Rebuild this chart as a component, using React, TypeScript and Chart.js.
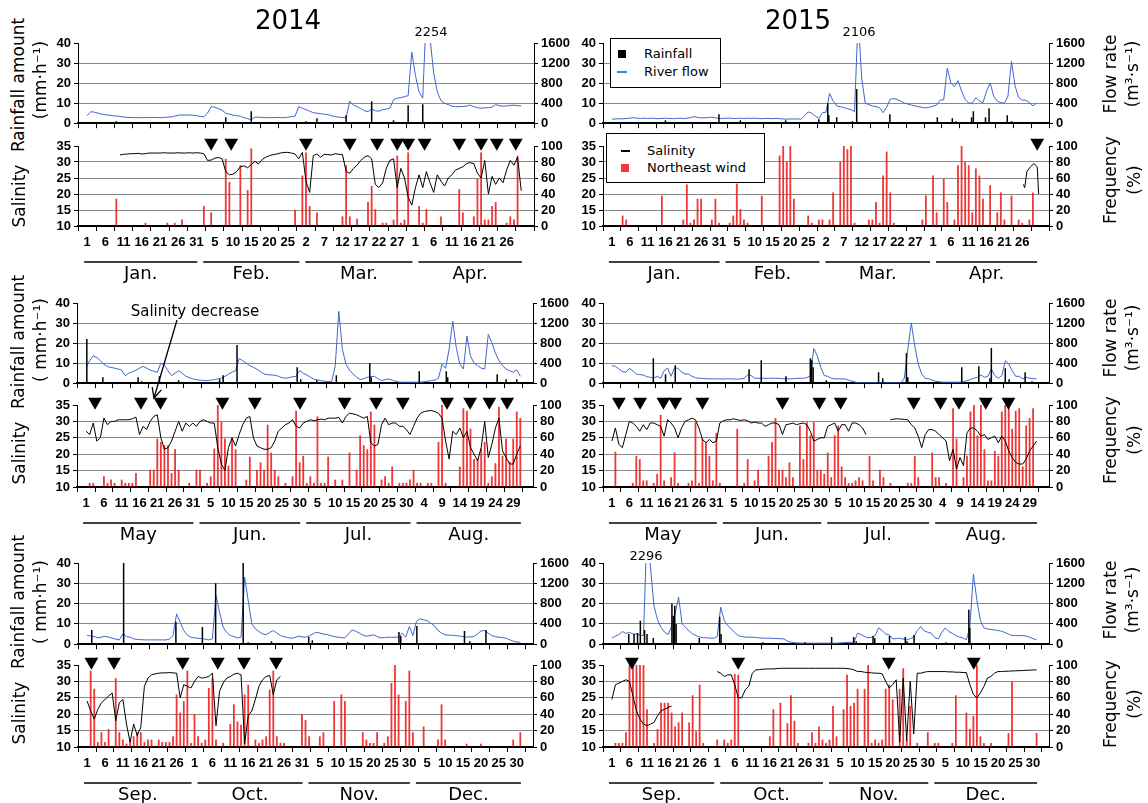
import React, { useEffect, useRef } from "react";
import { Chart, registerables } from "chart.js";

Chart.register(...registerables);

type Pair = [number, number];

// ---------------- categories / tick labels ----------------
const monthsJanApr = ["Jan.", "Feb.", "Mar.", "Apr."];
const monthsMayAug = ["May", "Jun.", "Jul.", "Aug."];
const monthsSepDec = ["Sep.", "Oct.", "Nov.", "Dec."];
const daysJanApr = [31, 28, 31, 30];
const daysMayAug = [31, 30, 31, 31];
const daysSepDec = [30, 31, 30, 31];
const rainTicks = [0, 10, 20, 30, 40];
const flowTicks = [0, 400, 800, 1200, 1600];
const salTicks = [10, 15, 20, 25, 30, 35];
const freqTicks = [0, 20, 40, 60, 80, 100];

// ---------------- 2014 Jan-Apr ----------------
const flow2014JanApr = [
  150, 230, 220, 200, 180, 170, 160, 150, 145, 135,
  125, 115, 115, 110, 110, 112, 112, 110, 115, 112,
  110, 115, 120, 125, 140, 160, 165, 160, 165, 160,
  150, 135, 130, 200, 330, 320, 290, 260, 200, 180,
  160, 150, 140, 110, 90, 70, 120, 120, 115, 110,
  112, 110, 115, 112, 110, 120, 130, 140, 330, 300,
  270, 240, 210, 200, 190, 180, 170, 150, 130, 120,
  115, 112, 440, 360, 330, 290, 250, 230, 280, 250,
  240, 270, 280, 300, 470, 500, 510, 530, 550, 1420,
  950, 620, 500, 2254, 1700, 1000, 620, 450, 400, 370,
  340, 330, 330, 335, 340, 360, 330, 310, 300, 305,
  310, 320, 370, 350, 340, 345, 355, 360, 350, 345,
];
const rain2014JanApr: Pair[] = [
  [8, 1], [38, 3], [45, 6], [60, 1], [63, 2.5], [71, 4], [75, 0.5], [78, 11], [84, 1.5], [88, 9], [92, 9.5],
];
const sal2014JanApr: (number | null)[] = [
  null, null, null, null, null, null, null, null, null, 32.2,
  32.4, 32.5, 32.6, 32.6, 32.7, 32.5, 32.6, 32.8, 32.8, 32.8,
  32.8, 32.9, 32.8, 32.8, 32.8, 32.9, 32.8, 32.8, 32.9, 32.8,
  32.9, 32.8, 32.6, 30.5, 30.6, 31.2, 31.4, 31.0, 27, 26,
  26.2, 27, 28.5, 28.8, 28.2, 29.2, 30.2, 29.4, 30.8, 31.5,
  32, 32.3, 32.5, 32.8, 33, 33, 32.8, 32.5, 31, 33,
  24, 20.5, 32, 32.5, 31.5, 32.4, 32.3, 32.2, 32.6, 32.4,
  32.3, 27, 26.5, 28, 29, 30.5, 31.5, 32, 31, 23,
  22, 23.5, 28, 30.5, 31, 22, 28, 25, 19, 16.5,
  22, 26, 22, 27, 23.5, 20.5, 26, 24, 22.5, 25,
  26, 27.5, 28, 28.5, 29.5, 29.8, 29.5, 26.5, 25, 30.5,
  20, 25.5, 23, 25, 23.5, 27.5, 30.5, 29, 31.5, 21,
];
const wind2014JanApr: Pair[] = [
  [8, 34], [16, 4], [22, 4], [24, 4], [26, 8], [32, 25], [34, 17], [38, 84], [39, 55], [42, 76], [44, 45], [45, 97],
  [57, 20], [59, 63], [60, 92], [61, 25], [63, 17], [70, 12], [71, 76], [72, 12], [74, 9], [77, 30], [78, 50], [79, 21],
  [81, 4], [82, 4], [84, 8], [85, 88], [86, 4], [87, 8], [88, 92], [91, 25], [92, 4], [93, 21], [97, 12], [102, 46],
  [103, 17], [106, 12], [107, 59], [108, 92], [109, 8], [110, 8], [111, 25], [112, 30], [115, 4], [116, 12], [117, 8], [118, 88],
];
const tri2014JanApr = [34, 39.5, 60, 72, 79.5, 85, 88, 92.5, 102, 108, 112.3, 117.5];

// ---------------- 2015 Jan-Apr ----------------
const flow2015JanApr = [
  80, 85, 90, 85, 95, 100, 110, 100, 95, 100,
  95, 100, 95, 90, 95, 100, 95, 90, 95, 100,
  95, 100, 110, 130, 115, 105, 110, 110, 120, 105,
  100, 95, 100, 100, 95, 95, 100, 95, 100, 95,
  100, 95, 90, 95, 95, 90, 95, 90, 85, 80,
  85, 85, 85, 80, 150, 225, 200, 140, 100, 210,
  220, 595, 440, 345, 330, 310, 290, 270, 230, 2106,
  900, 400, 370, 345, 330, 310, 210, 320, 480, 490,
  470, 440, 400, 380, 360, 345, 330, 315, 305, 320,
  340, 360, 460, 470, 1100, 800, 730, 850, 640, 475,
  400, 400, 510, 440, 410, 640, 805, 540, 440, 410,
  400, 540, 1235, 740, 510, 460, 460, 410, 345, 400,
];
const rain2015JanApr: Pair[] = [
  [15, 1.5], [30, 4.5], [36, 1.5], [48.7, 1.5], [55.6, 0.5], [58, 2], [60.5, 10], [60.8, 4], [63, 3], [67.4, 1],
  [68.6, 17], [77.9, 4.5], [91.2, 3], [95.4, 2.5], [96.4, 1], [100.8, 3], [101.3, 6], [104.7, 3], [105.7, 7.5],
  [110.8, 4], [112, 1],
];
const sal2015JanApr: Pair[] = [
  [115.3, 23], [115.7, 22], [116.3, 27], [117.3, 28.5], [118.3, 29.5], [119.2, 28.5], [119.6, 20],
];
const wind2015JanApr: Pair[] = [
  [3, 13], [4, 8], [14, 38], [20, 8], [21, 52], [22, 4], [23, 8], [24, 34], [25, 34], [28, 8], [29, 34], [30, 4],
  [33, 4], [34, 13], [35, 53], [36, 21], [37, 8], [38, 4], [42, 38], [47, 88], [48, 100], [49, 80], [50, 100], [51, 34],
  [55, 13], [56, 4], [58, 8], [59, 8], [61, 8], [62, 42], [64, 80], [65, 100], [66, 96], [67, 100], [68, 4], [72, 8],
  [73, 8], [74, 30], [75, 4], [76, 63], [77, 93], [78, 42], [79, 4], [87, 8], [88, 38], [90, 63], [91, 17], [93, 59],
  [94, 30], [96, 8], [97, 76], [98, 100], [99, 80], [100, 76], [101, 17], [102, 72], [103, 63], [104, 34], [106, 51],
  [108, 17], [109, 42], [110, 8], [112, 38], [114, 8], [115, 4], [117, 8], [118, 42],
];
const tri2015JanApr = [119.2];

// ---------------- 2014 May-Aug ----------------
const flow2014MayAug = [
  320, 450, 546, 513, 450, 380, 330, 316, 300, 283,
  260, 150, 200, 230, 260, 300, 336, 300, 260, 240,
  217, 401, 360, 250, 150, 200, 250, 200, 140, 110,
  86, 70, 60, 55, 53, 60, 70, 86, 100, 138,
  180, 220, 250, 493, 447, 400, 350, 316, 280, 230,
  184, 170, 164, 160, 140, 110, 99, 110, 130, 138,
  250, 200, 164, 120, 80, 66, 50, 40, 35, 33,
  349, 1434, 678, 380, 260, 184, 120, 72, 90, 118,
  130, 138, 90, 53, 70, 86, 60, 40, 20, 20,
  20, 20, 20, 20, 20, 30, 40, 53, 60, 100,
  380, 296, 678, 1237, 711, 380, 283, 941, 546, 400,
  349, 300, 283, 974, 809, 600, 447, 350, 283, 250,
  217, 263, 138,
];
const rain2014MayAug: Pair[] = [
  [0.2, 22], [4.7, 3], [14.6, 3], [15.6, 1], [20.6, 3.5], [26, 1.5], [37.5, 2], [38.5, 4], [42.4, 19], [59.3, 8],
  [60.3, 2], [64.8, 1.5], [70.3, 4], [79.7, 10], [80.1, 3], [93.6, 6], [101.2, 6], [101.6, 3], [115.5, 4.5],
  [118, 2], [121, 2],
];
const sal2014MayAug: (number | null)[] = [
  27, 26, 29.5, 24, 25, 31, 29, 30, 30, 30.5,
  30.5, 30.5, 30.5, 30.8, 31.3, 26, 28.5, 27.5, 30, 31.5,
  32, 25, 21.5, 22, 24, 27, 30, 27, 29.5, 28.5,
  29.5, 28.5, 30, 30.5, 30, 29.5, 29.5, 22, 17, 15,
  22, 25, 22.5, 26, 29, 31, 31.5, 25, 22.5, 22,
  21.5, 21.5, 22, 24, 27, 28, 29, 29.5, 30.5, 28.5,
  28, 29.5, 30, 30.5, 30.2, 30.5, 30.7, 30.5, 31, 31,
  31, 31.2, 29.5, 31.5, 32.5, 32.3, 32, 31.5, 31, 31.5,
  23.5, 22.5, 23, 29, 31, 29, 29.5, 29.5, 28.5, 28.5,
  27.5, 26, 28.5, 31, 32.5, 33, 33.2, 33.3, 33, 32.5,
  31, 24, 18.5, 27, 26, 28, 25, 27, 22, 20,
  18, 22, 30, 19, 23, 28, 31, 21, 19, 17,
  17, 20, 22.5,
];
const wind2014MayAug: Pair[] = [
  [1, 5], [2, 5], [5, 13], [6, 5], [7, 9], [8, 5], [10, 9], [11, 5], [12, 5], [13, 5], [14, 17], [18, 21], [19, 21],
  [20, 59], [21, 55], [22, 51], [23, 51], [24, 17], [25, 46], [26, 21], [29, 5], [31, 21], [32, 21], [34, 5], [35, 13],
  [36, 47], [37, 100], [38, 80], [39, 59], [40, 26], [41, 59], [42, 46], [45, 9], [46, 37], [48, 21], [49, 30], [50, 21],
  [51, 76], [52, 42], [53, 21], [54, 13], [56, 5], [58, 13], [59, 93], [60, 30], [61, 38], [62, 5], [63, 13], [64, 5],
  [65, 86], [66, 5], [67, 5], [68, 37], [70, 9], [72, 9], [74, 42], [76, 21], [77, 63], [78, 51], [79, 46], [80, 92],
  [81, 76], [83, 9], [84, 13], [85, 5], [86, 25], [88, 5], [89, 5], [90, 5], [91, 9], [92, 21], [93, 5], [94, 5],
  [96, 5], [97, 5], [99, 55], [100, 100], [101, 5], [105, 25], [106, 96], [107, 93], [108, 71], [109, 34], [110, 34],
  [111, 47], [112, 55], [113, 5], [114, 13], [115, 29], [116, 98], [117, 38], [118, 59], [119, 31], [120, 59],
  [121, 92], [122, 84],
];
const tri2014MayAug = [2.5, 15.4, 20.9, 38.3, 47.4, 60.1, 72.6, 81.5, 89, 101.4, 107.9, 113.3, 118.3];

// ---------------- 2015 May-Aug ----------------
const flow2015MayAug = [
  349, 336, 283, 230, 217, 296, 250, 184, 170, 164,
  130, 118, 99, 138, 99, 250, 303, 138, 309, 296,
  220, 184, 184, 138, 110, 99, 95, 90, 86, 86,
  86, 86, 80, 90, 86, 86, 80, 86, 90, 171,
  150, 99, 99, 99, 95, 99, 99, 99, 95, 90,
  86, 86, 90, 95, 99, 99, 110, 151, 691, 546,
  316, 151, 138, 100, 86, 86, 86, 86, 60, 40,
  20, 5, 5, 5, 5, 5, 5, 5, 5, 5,
  5, 5, 5, 5, 100, 678, 1204, 744, 382, 184,
  99, 86, 60, 40, 30, 20, 20, 20, 20, 20,
  20, 30, 50, 72, 100, 118, 164, 118, 138, 283,
  151, 99, 151, 447, 382, 250, 138, 138, 86, 118,
  100, 90, 86,
];
const rain2015MayAug: Pair[] = [
  [11.9, 12.5], [15.4, 4.5], [18.2, 9], [39.4, 7], [42.9, 11.5], [50, 3.5], [57, 12.5], [57.4, 11.5], [57.8, 8],
  [61.6, 1.5], [76.6, 5.5], [77.8, 2.5], [84.6, 15], [85, 3], [100.5, 8], [105.4, 8.5], [108.6, 2.5], [109, 17.5],
  [113, 7.5], [114.1, 2], [118.7, 5.5], [120.7, 1],
];
const sal2015MayAug: (number | null)[] = [
  24, 28, 23, 22, 26, 30, 29.5, 28.5, 27, 29,
  27.5, 29.5, 29.5, 29, 28.5, 25.5, 30.5, 29.5, 28, 25,
  28, 30, 30.5, 31, 30.5, 28, 24.5, 23.5, 24.5, 23.5,
  24, 29.5, 30.2, 30.5, 30.5, 30.8, 30.5, 30.3, 30.5, 30.2,
  29.5, 29.8, 29.5, 29.5, 28.5, 29, 29.5, 29.5, 29, 26,
  29, 29.2, 29.5, 29, 29.3, 29.5, 29, 27, 24, 24.5,
  25, 25, 28.5, 29, 29.5, 27, 29, 29, 27, 29.5,
  29.5, 29, 28, 26, null, null, null, null, null, null,
  30.5, 30.7, 30.8, 30.7, 30.6, 30.5, 29, 28, 25.5, 22,
  26, 27.5, 27.5, 27, 26, 25, 24, 18, 21.5, 15.5,
  19, 16.5, 26.5, 28, 28, 27, 25.5, 26, 24.5, 25,
  25.5, 23.5, 25.5, 24, 21, 19, 17.5, 17, 17, 18.5,
  21, 22.5, 24,
];
const wind2015MayAug: Pair[] = [
  [1, 43], [6, 5], [7, 38], [8, 34], [9, 8], [10, 8], [12, 5], [13, 16], [14, 88], [15, 8], [17, 12], [18, 42], [19, 5],
  [22, 5], [23, 8], [24, 79], [25, 5], [26, 59], [27, 55], [28, 38], [29, 8], [30, 66], [31, 5], [36, 71], [38, 5],
  [39, 34], [41, 8], [42, 21], [45, 38], [46, 55], [47, 84], [48, 21], [49, 21], [50, 12], [51, 30], [52, 12], [54, 75],
  [55, 34], [56, 79], [57, 63], [58, 79], [59, 21], [60, 21], [61, 16], [62, 42], [63, 12], [64, 63], [65, 75], [66, 25],
  [67, 12], [68, 5], [69, 5], [70, 8], [71, 12], [72, 8], [74, 38], [75, 8], [77, 21], [78, 12], [80, 5], [85, 5],
  [86, 5], [87, 38], [88, 12], [92, 42], [93, 12], [94, 12], [96, 5], [98, 96], [99, 59], [101, 12], [102, 38],
  [103, 92], [104, 100], [105, 63], [106, 100], [107, 46], [108, 8], [109, 8], [110, 44], [111, 38], [112, 92],
  [113, 100], [114, 100], [115, 71], [116, 93], [117, 96], [118, 25], [119, 75], [120, 84], [121, 96],
];
const tri2015MayAug = [2, 8.1, 14.8, 18.2, 26, 49, 59.6, 65.7, 86.7, 94.4, 99.7, 107.4, 113.9];

// ---------------- 2014 Sep-Dec ----------------
const flow2014SepDec = [
  170, 165, 150, 125, 140, 157, 140, 118, 100, 85,
  203, 150, 138, 105, 95, 90, 85, 85, 85, 85,
  85, 85, 85, 100, 170, 597, 433, 269, 180, 138,
  125, 118, 110, 100, 85, 105, 958, 630, 335, 230,
  170, 150, 125, 138, 1319, 859, 400, 302, 250, 203,
  190, 230, 269, 220, 170, 150, 130, 118, 130, 157,
  145, 138, 160, 200, 236, 220, 200, 190, 170, 150,
  138, 130, 125, 200, 282, 256, 220, 180, 157, 170,
  184, 150, 125, 130, 138, 135, 138, 138, 216, 138,
  348, 170, 450, 499, 480, 466, 413, 367, 269, 220,
  184, 180, 175, 170, 160, 150, 138, 145, 151, 200,
  260, 269, 220, 170, 150, 138, 130, 118, 90, 59,
  45, 39,
];
const rain2014SepDec: Pair[] = [
  [1.3, 7], [10.2, 40], [24.8, 11], [32.2, 8.5], [35.9, 30], [43.6, 40], [45, 1], [51.5, 1.5], [61.9, 3.5],
  [62.9, 2], [72.8, 1], [87.1, 6], [87.6, 4], [92.1, 9], [105.4, 6.5], [106.9, 1.5], [111.4, 7],
];
const sal2014SepDec: (number | null)[] = [
  24, 21, 18.5, 21.5, 23.5, 24.5, 25.5, 26.5, 18, 23.5,
  24.5, 17, 11.5, 17, 13.5, 16, 28.5, 31, 32, 32.3,
  32.5, 32.6, 32.6, 32.7, 32.6, 32.5, 25, 29, 28.5, 28,
  30, 31.5, 31, 31.2, 31.5, 32.5, 16.5, 27, 29.5, 31,
  31.5, 32.2, 32.5, 32, 11, 19.5, 21, 24.5, 28.5, 30.5,
  31.5, 31.8, 26, 30.5, 31.5,
];
const wind2014SepDec: Pair[] = [
  [1, 93], [2, 71], [3, 6], [4, 18], [5, 6], [6, 22], [8, 84], [9, 18], [10, 9], [11, 4], [12, 9], [13, 13], [14, 18],
  [15, 18], [16, 6], [17, 9], [18, 9], [20, 9], [21, 6], [22, 6], [23, 6], [24, 13], [25, 64], [26, 42], [27, 56],
  [28, 93], [29, 5], [30, 40], [31, 13], [32, 5], [33, 9], [34, 72], [35, 84], [36, 9], [38, 5], [40, 28], [41, 52],
  [42, 31], [43, 27], [44, 64], [45, 76], [47, 9], [48, 5], [49, 9], [50, 13], [51, 70], [52, 93], [53, 13], [54, 5],
  [55, 5], [60, 40], [61, 33], [62, 13], [65, 13], [66, 18], [69, 56], [71, 64], [72, 56], [77, 18], [78, 9], [79, 5],
  [80, 5], [81, 18], [83, 5], [84, 13], [85, 78], [86, 100], [87, 64], [89, 56], [90, 93], [91, 18], [94, 25], [98, 9],
  [99, 52], [100, 9], [106, 4], [110, 4], [119, 9], [121, 18],
];
const tri2014SepDec = [1.2, 7.5, 26.7, 36.5, 43.8, 52.8];

// ---------------- 2015 Sep-Dec ----------------
const flow2015SepDec = [
  120, 160, 190, 250, 210, 236, 200, 203, 180, 170,
  2296, 1500, 750, 480, 330, 240, 190, 350, 600, 925,
  400, 330, 260, 203, 170, 140, 130, 125, 120, 118,
  150, 728, 466, 367, 302, 230, 170, 150, 140, 138,
  138, 130, 125, 120, 118, 118, 115, 110, 108, 105,
  60, 39, 30, 25, 20, 20, 20, 20, 20, 20,
  20, 20, 20, 20, 20, 25, 30, 35, 39, 40,
  216, 190, 150, 125, 140, 170, 321, 269, 203, 184,
  105, 110, 118, 100, 85, 110, 138, 269, 348, 260,
  236, 216, 130, 105, 236, 321, 250, 216, 170, 140,
  125, 85, 335, 1384, 859, 466, 321, 300, 290, 282,
  270, 256, 230, 200, 170, 170, 170, 170, 160, 138,
  110, 85,
];
const rain2015SepDec: Pair[] = [
  [4.8, 5], [6.3, 5], [7.3, 5.5], [8.1, 11.5], [9.3, 7], [10, 5], [11.8, 3], [17.1, 20], [17.5, 14], [17.9, 19],
  [18.3, 10], [24.9, 3], [30.7, 13.5], [31.1, 5], [43, 1], [55, 1], [62.6, 3.5], [68.9, 3.5], [69.6, 1.5], [74.4, 4],
  [74.9, 3], [79.1, 4], [83.6, 3.5], [84.1, 1.5], [86.1, 4.5], [95.2, 1], [101.7, 17], [102, 8],
];
const sal2015SepDec: (number | null)[] = [
  24.5, 29, 29.5, 30, 30.5, 30, 25.5, 21, 18.5, 17,
  16.5, 17, 17.5, 19.5, 21, 21.5, 22, 22.5, null, null,
  null, null, null, null, null, null, null, null, null, null,
  33, 32.5, 31.5, 32, 32, 29, 25, 25, 27.5, 28.5,
  32.5, 33.5, 33.6, 33.7, 33.8, 33.8, 33.8, 33.9, 34, 34,
  34, 34, 34, 34, 34, 34, 34, 34, 34, 34,
  34, 34, 34, 34, 34, 34, 34, 33.9, 33.8, 33.5,
  33, 33, 32.8, 32.7, 32.6, 32.5, 32.5, 32.3, 30, 28,
  29, 30.5, 11.5, 31, 12, 30, 14, 32.5, 32.5, 32.8,
  33, 33, 33, 33, 33, 33, 32.9, 32.9, 32.8, 32.8,
  32.7, 32.7, 29, 26, 25, 26.5, 28.5, 31, 31.5, 32.5,
  33, 33, 33.1, 33.1, 33.2, 33.2, 33.3, 33.3, 33.4, 33.4,
  33.5, 33.5,
];
const wind2015SepDec: Pair[] = [
  [1, 5], [2, 5], [3, 5], [4, 18], [5, 100], [6, 100], [7, 100], [8, 100], [9, 100], [10, 46], [12, 5], [13, 22],
  [14, 54], [15, 54], [16, 54], [17, 42], [18, 25], [19, 30], [20, 42], [22, 30], [23, 63], [24, 19], [25, 76], [26, 5],
  [30, 9], [32, 9], [33, 5], [34, 9], [35, 89], [36, 88], [45, 13], [46, 46], [48, 54], [50, 29], [51, 63], [52, 32],
  [53, 5], [56, 5], [57, 18], [58, 5], [59, 25], [60, 9], [61, 5], [62, 9], [63, 50], [64, 13], [66, 46], [67, 88],
  [68, 50], [69, 54], [70, 71], [72, 71], [73, 100], [74, 5], [75, 9], [76, 5], [77, 9], [78, 71], [79, 76], [80, 58],
  [82, 71], [83, 96], [84, 9], [85, 50], [87, 5], [90, 18], [92, 5], [93, 5], [97, 5], [98, 63], [101, 42], [102, 22],
  [103, 38], [104, 100], [105, 13], [106, 5], [108, 5], [113, 17], [114, 80], [121, 17],
];
const tri2015SepDec = [5.7, 36, 78.9, 103.1];

// ---------------- layout & style ----------------
const TEXT_FAMILY = '"DejaVu Sans", Verdana, sans-serif';
const YTICK_FONT = { family: '"Liberation Sans", Arial, sans-serif', size: 13, weight: "bold" as const };
const XTICK_FONT = { family: '"Liberation Sans Narrow", "Liberation Sans", Arial, sans-serif', size: 13, weight: "bold" as const };
const FLOW_BLUE = "#4066cf";
const WIND_RED = "rgba(238,32,32,0.9)";
const GRID = "#8a8a8a";
const LW = 44;
const RW = 46;
const PT = 14;
const XHF = 10;
const XHS = 62;

interface BlockSpec {
  id: string;
  months: string[];
  days: number[];
  flow: number[];
  rain: Pair[];
  sal: (number | null)[] | Pair[];
  wind: Pair[];
  tri: number[];
  x0: number;
  x1: number;
  fT: number;
  fB: number;
  sT: number;
  sB: number;
}

const blocks: BlockSpec[] = [
  { id: "a", months: monthsJanApr, days: daysJanApr, flow: flow2014JanApr, rain: rain2014JanApr, sal: sal2014JanApr, wind: wind2014JanApr, tri: tri2014JanApr, x0: 78, x1: 534, fT: 43, fB: 124, sT: 146, sB: 226 },
  { id: "b", months: monthsJanApr, days: daysJanApr, flow: flow2015JanApr, rain: rain2015JanApr, sal: sal2015JanApr, wind: wind2015JanApr, tri: tri2015JanApr, x0: 603, x1: 1049, fT: 43, fB: 124, sT: 146, sB: 226 },
  { id: "c", months: monthsMayAug, days: daysMayAug, flow: flow2014MayAug, rain: rain2014MayAug, sal: sal2014MayAug, wind: wind2014MayAug, tri: tri2014MayAug, x0: 77, x1: 533, fT: 303, fB: 384, sT: 405, sB: 487 },
  { id: "d", months: monthsMayAug, days: daysMayAug, flow: flow2015MayAug, rain: rain2015MayAug, sal: sal2015MayAug, wind: wind2015MayAug, tri: tri2015MayAug, x0: 603, x1: 1049, fT: 303, fB: 384, sT: 405, sB: 487 },
  { id: "e", months: monthsSepDec, days: daysSepDec, flow: flow2014SepDec, rain: rain2014SepDec, sal: sal2014SepDec, wind: wind2014SepDec, tri: tri2014SepDec, x0: 78, x1: 533, fT: 563, fB: 645, sT: 665, sB: 747 },
  { id: "f", months: monthsSepDec, days: daysSepDec, flow: flow2015SepDec, rain: rain2015SepDec, sal: sal2015SepDec, wind: wind2015SepDec, tri: tri2015SepDec, x0: 603, x1: 1049, fT: 563, fB: 645, sT: 665, sB: 747 },
];

const total = (a: number[]) => a.reduce((s, v) => s + v, 0);

function dayLabel(v: number, days: number[]): string {
  const n = total(days);
  if (v < 0 || v >= n) return "";
  let acc = 0;
  for (const d of days) {
    if (v < acc + d) return String(v - acc + 1);
    acc += d;
  }
  return "";
}

function yScale(pos: "left" | "right", ticksArr: number[], grid: boolean, width: number) {
  const min = ticksArr[0];
  const max = ticksArr[ticksArr.length - 1];
  return {
    type: "linear",
    position: pos,
    min,
    max,
    afterBuildTicks: (s: any) => {
      s.ticks = ticksArr.map((value) => ({ value }));
    },
    ticks: { color: "#000", font: YTICK_FONT, padding: 3, autoSkip: false, callback: (v: number) => String(v) },
    grid: {
      drawOnChartArea: grid,
      color: (c: any) => (c.tick && (c.tick.value <= min || c.tick.value >= max) ? "rgba(0,0,0,0)" : GRID),
      lineWidth: 1,
      drawTicks: true,
      tickLength: 4,
      tickColor: "#000",
    },
    border: { display: true, color: "#000", width: 1 },
    afterFit: (s: any) => {
      s.width = width;
    },
  };
}

function xScale(days: number[], labels: boolean, height: number) {
  const n = total(days);
  return {
    type: "linear",
    position: "bottom",
    min: 0,
    max: n,
    ticks: {
      display: labels,
      stepSize: 5,
      autoSkip: false,
      includeBounds: false,
      maxRotation: 0,
      minRotation: 0,
      maxTicksLimit: 1000,
      color: "#000",
      font: XTICK_FONT,
      padding: 4,
      callback: (v: number) => dayLabel(v, days),
    },
    grid: { drawOnChartArea: false, drawTicks: true, tickLength: 5, tickColor: "#000", color: "#000" },
    border: { display: true, color: "#000", width: 2 },
    afterFit: (s: any) => {
      s.height = height;
    },
  };
}

const monthPlugin = {
  id: "months",
  afterDraw(chart: any, _args: any, opts: any) {
    const { ctx, chartArea } = chart;
    const xs = chart.scales.x;
    let acc = 0;
    ctx.save();
    opts.days.forEach((d: number, i: number) => {
      const a = xs.getPixelForValue(acc) + (i === 0 ? -3 : 3);
      const b = xs.getPixelForValue(acc + d) - 3;
      const y = chartArea.bottom + 36;
      ctx.strokeStyle = "#000";
      ctx.lineWidth = 1.5;
      ctx.beginPath();
      ctx.moveTo(a, y);
      ctx.lineTo(b, y);
      ctx.stroke();
      ctx.fillStyle = "#000";
      ctx.font = `18px ${TEXT_FAMILY}`;
      ctx.textAlign = "center";
      ctx.textBaseline = "middle";
      ctx.fillText(opts.names[i], (a + b) / 2, chartArea.bottom + 48.5);
      acc += d;
    });
    ctx.restore();
  },
};

function flowConfig(b: BlockSpec): any {
  return {
    type: "bar",
    data: {
      datasets: [
        { type: "bar", label: "Rainfall", data: b.rain.map(([x, y]) => ({ x, y })), yAxisID: "yRain", backgroundColor: "#000", barThickness: 1.5, inflateAmount: 0, order: 0 },
        { type: "line", label: "River flow", data: b.flow.map((y, x) => ({ x, y })), yAxisID: "yFlow", borderColor: FLOW_BLUE, borderWidth: 1, pointRadius: 0, tension: 0, order: 1 },
      ],
    },
    options: {
      responsive: false,
      animation: false,
      events: [],
      layout: { padding: { top: PT, left: 0, right: 0, bottom: 0 } },
      plugins: { legend: { display: false }, tooltip: { enabled: false } },
      scales: {
        x: xScale(b.days, false, XHF),
        yRain: yScale("left", rainTicks, true, LW),
        yFlow: yScale("right", flowTicks, false, RW),
      },
    },
  };
}

function salConfig(b: BlockSpec): any {
  const salPts =
    b.sal.length && Array.isArray(b.sal[0])
      ? (b.sal as Pair[]).map(([x, y]) => ({ x, y }))
      : (b.sal as (number | null)[]).map((y, x) => ({ x, y }));
  return {
    type: "bar",
    data: {
      datasets: [
        {
          type: "scatter", label: "marks", data: b.tri.map((x) => ({ x, y: 36 })), yAxisID: "ySal",
          pointStyle: "triangle", pointRotation: 180, pointRadius: 8, pointBackgroundColor: "#000",
          pointBorderColor: "#000", pointBorderWidth: 0, clip: false, order: 0,
        },
        { type: "line", label: "Salinity", data: salPts, yAxisID: "ySal", borderColor: "#000", borderWidth: 1, pointRadius: 0, spanGaps: false, tension: 0, order: 1 },
        { type: "bar", label: "Northeast wind", data: b.wind.map(([x, y]) => ({ x, y })), yAxisID: "yFreq", backgroundColor: WIND_RED, barThickness: 1.8, inflateAmount: 0, order: 2 },
      ],
    },
    options: {
      responsive: false,
      animation: false,
      events: [],
      layout: { padding: { top: PT, left: 0, right: 0, bottom: 0 } },
      plugins: { legend: { display: false }, tooltip: { enabled: false }, months: { days: b.days, names: b.months } },
      scales: {
        x: xScale(b.days, true, XHS),
        ySal: yScale("left", salTicks, true, LW),
        yFreq: yScale("right", freqTicks, false, RW),
      },
    },
    plugins: [monthPlugin],
  };
}

function ChartCanvas({ left, top, width, height, make }: { left: number; top: number; width: number; height: number; make: () => any }) {
  const ref = useRef<HTMLCanvasElement>(null);
  useEffect(() => {
    const chart = new Chart(ref.current as HTMLCanvasElement, make());
    return () => chart.destroy();
  }, []);
  return <canvas ref={ref} width={width} height={height} style={{ position: "absolute", left, top, width, height }} />;
}

function BlockCharts({ b }: { b: BlockSpec }) {
  const w = b.x1 - b.x0 + LW + RW;
  return (
    <>
      <ChartCanvas left={b.x0 - LW} top={b.fT - PT} width={w} height={PT + (b.fB - b.fT) + XHF} make={() => flowConfig(b)} />
      <ChartCanvas left={b.x0 - LW} top={b.sT - PT} width={w} height={PT + (b.sB - b.sT) + XHS} make={() => salConfig(b)} />
    </>
  );
}

function Txt({ x, y, size = 17, rot = false, children }: { x: number; y: number; size?: number; rot?: boolean; children: React.ReactNode }) {
  return (
    <div
      style={{
        position: "absolute", left: x, top: y, transform: `translate(-50%,-50%)${rot ? " rotate(-90deg)" : ""}`,
        fontFamily: TEXT_FAMILY, fontSize: size, lineHeight: 1, whiteSpace: "nowrap", color: "#000",
      }}
    >
      {children}
    </div>
  );
}

const rows = [
  { rain: 85, unit: 80, sal: 196, flow: 74, freq: 180 },
  { rain: 342, unit: 340, sal: 453, flow: 338, freq: 440 },
  { rain: 602, unit: 602, sal: 713, flow: 600, freq: 704 },
];

export default function App() {
  // arrow for "Salinity decrease"
  const ax0 = 177, ay0 = 320, ax1 = 154, ay1 = 398;
  const ang = Math.atan2(ay1 - ay0, ax1 - ax0);
  const ah = 11;
  const p1 = [ax1 - ah * Math.cos(ang - 0.45), ay1 - ah * Math.sin(ang - 0.45)];
  const p2 = [ax1 - ah * Math.cos(ang + 0.45), ay1 - ah * Math.sin(ang + 0.45)];
  return (
    <div style={{ position: "absolute", left: 0, top: 0, width: 1148, height: 803, background: "#fff", overflow: "hidden" }}>
      {blocks.map((b) => (
        <BlockCharts key={b.id} b={b} />
      ))}

      <Txt x={288} y={20} size={26}>2014</Txt>
      <Txt x={798} y={20} size={26}>2015</Txt>
      <Txt x={431} y={31} size={13}>2254</Txt>
      <Txt x={859} y={31} size={13}>2106</Txt>
      <Txt x={646} y={555} size={13}>2296</Txt>

      {rows.map((r, i) => (
        <React.Fragment key={i}>
          <Txt x={18} y={r.rain} rot>Rainfall amount</Txt>
          <Txt x={40} y={r.unit} rot>{i === 0 ? "(mm·h⁻¹)" : "( mm·h⁻¹)"}</Txt>
          <Txt x={19} y={r.sal} rot>Salinity</Txt>
          <Txt x={1110} y={r.flow} rot>Flow rate</Txt>
          <Txt x={1132} y={r.flow} rot>(m³·s⁻¹)</Txt>
          <Txt x={1110} y={r.freq} rot>Frequency</Txt>
          <Txt x={1134} y={r.freq} rot>(%)</Txt>
        </React.Fragment>
      ))}

      {/* legend: rainfall / river flow */}
      <div style={{ position: "absolute", left: 610, top: 38, width: 111, height: 50, border: "1.5px solid #000", background: "#fff", boxSizing: "border-box" }}>
        <div style={{ position: "absolute", left: 7, top: 11, width: 8, height: 8, background: "#000" }} />
        <div style={{ position: "absolute", left: 33, top: 7, fontFamily: TEXT_FAMILY, fontSize: 13, lineHeight: "16px" }}>Rainfall</div>
        <div style={{ position: "absolute", left: 6, top: 32, width: 10, height: 2, background: "#3a8ad8" }} />
        <div style={{ position: "absolute", left: 33, top: 25, fontFamily: TEXT_FAMILY, fontSize: 13, lineHeight: "16px" }}>River flow</div>
      </div>

      {/* legend: salinity / northeast wind */}
      <div style={{ position: "absolute", left: 606, top: 133, width: 159, height: 50, border: "1.5px solid #000", background: "#fff", boxSizing: "border-box" }}>
        <div style={{ position: "absolute", left: 14, top: 16, width: 9, height: 2, background: "#000" }} />
        <div style={{ position: "absolute", left: 40, top: 9, fontFamily: TEXT_FAMILY, fontSize: 13, lineHeight: "16px" }}>Salinity</div>
        <div style={{ position: "absolute", left: 14, top: 30, width: 8, height: 8, background: "#f03a3a" }} />
        <div style={{ position: "absolute", left: 40, top: 26, fontFamily: TEXT_FAMILY, fontSize: 13, lineHeight: "16px" }}>Northeast wind</div>
      </div>

      <Txt x={195} y={311} size={15}>Salinity decrease</Txt>
      <svg width={1148} height={803} style={{ position: "absolute", left: 0, top: 0, pointerEvents: "none" }}>
        <line x1={ax0} y1={ay0} x2={ax1} y2={ay1} stroke="#000" strokeWidth={1.3} />
        <polyline points={`${p1[0]},${p1[1]} ${ax1},${ay1} ${p2[0]},${p2[1]}`} fill="none" stroke="#000" strokeWidth={1.3} />
      </svg>
    </div>
  );
}
